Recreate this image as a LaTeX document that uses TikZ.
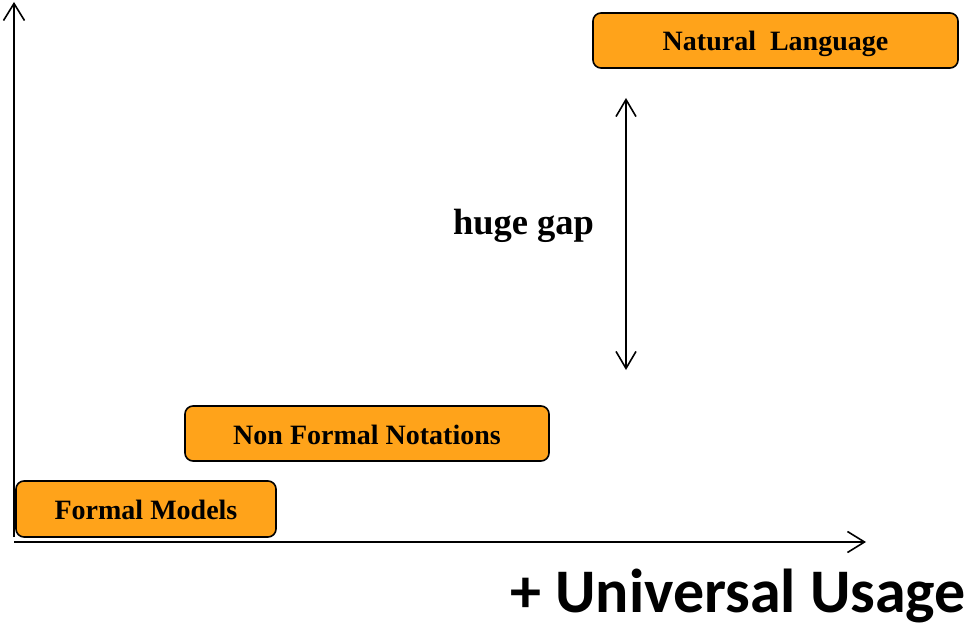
\documentclass[tikz,border=0pt]{standalone}
\usepackage{fontspec}
\setmainfont{Liberation Serif}
\newfontfamily\carl{Carlito}
\usetikzlibrary{arrows.meta}
\definecolor{boxorange}{HTML}{FFA31A}
\begin{document}
\begin{tikzpicture}[x=1pt,y=-1pt,
  levelbox/.style={draw=black, line width=1.6pt, fill=boxorange, rounded corners=8pt,
    inner sep=0pt, text height=21pt, text depth=0pt, font=\fontsize{28}{30}\selectfont\bfseries},
  axis/.style={line width=1.6pt, -{Straight Barb[length=17pt,width=21pt,line width=1.6pt]}},
  gap/.style={line width=1.6pt, {Straight Barb[length=17pt,width=20pt,line width=1.6pt]}-{Straight Barb[length=17pt,width=20pt,line width=1.6pt]}}]
\useasboundingbox (0,0) rectangle (967,626);
% axes
\coordinate (origin) at (14,542);
\coordinate (ytop) at (14,2);
\coordinate (ybot) at (14,537);
\coordinate (xend) at (866,542);
\draw[axis] (ybot) -- (ytop);
\draw[axis] (origin) -- (xend);
% boxes
\node[levelbox, minimum width=365pt, minimum height=55pt] (nl) at (775.5,40.5) {Natural\ \ Language};
\node[levelbox, minimum width=364pt, minimum height=55pt] (nfn) at (367,433.5) {Non Formal Notations};
\node[levelbox, minimum width=260pt, minimum height=56pt] (fm) at (146,509) {Formal Models};
% gap arrow
\coordinate (gtop) at (626,98);
\coordinate (gbot) at (626,370);
\draw[gap] (gtop) -- (gbot);
\node[anchor=base, inner sep=0pt, font=\fontsize{36.5}{40}\selectfont\bfseries] (hg) at (523.5,234) {huge gap};
% axis label
\node[anchor=base east, inner sep=0pt, font=\fontsize{62}{66}\carl\bfseries] (uu) at (966,612) {+ Universal Usage};
\end{tikzpicture}
\end{document}
